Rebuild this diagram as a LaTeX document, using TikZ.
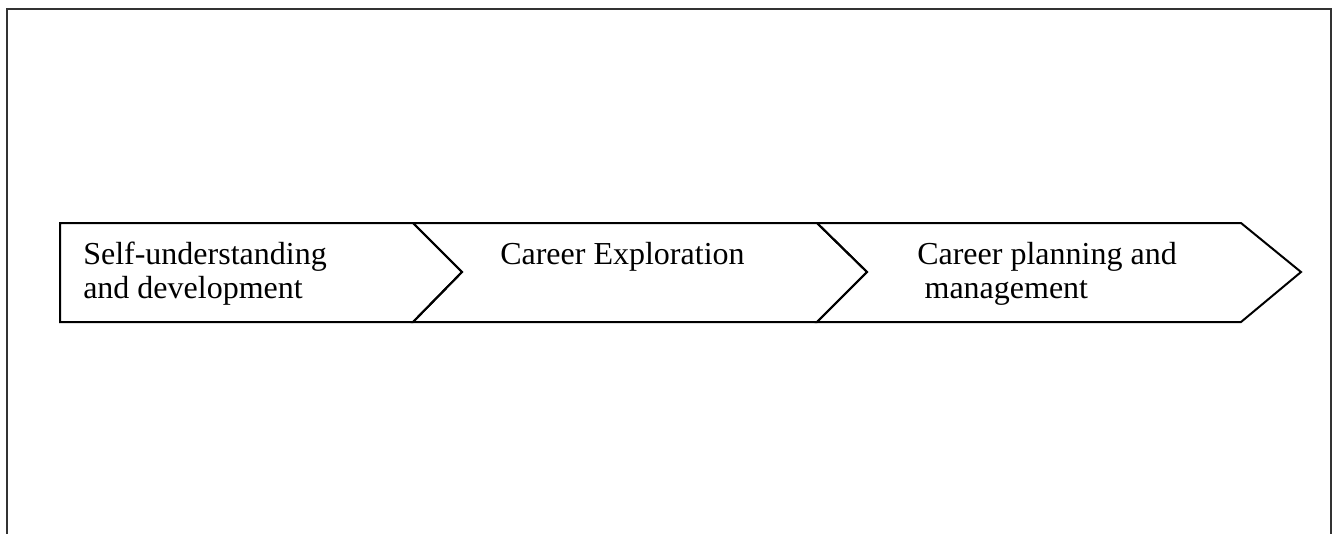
\documentclass[tikz,border=0pt]{standalone}
\usepackage{fontspec}
\setmainfont{Liberation Serif}
\usetikzlibrary{positioning}

\begin{document}
\begin{tikzpicture}[
  x=0.75pt, y=-0.75pt,
  every node/.style={font=\fontsize{24}{25.5}\selectfont},
  chev/.style={draw, line width=1.5pt, line join=miter},
  lbl/.style={anchor=base west, inner sep=0pt, align=left},
  frame/.style={draw=black!80, line width=1.1pt}
]
  \useasboundingbox (0,0) rectangle (1336,533);
  \draw[frame] (7,560) -- (7,9) -- (1331,9) -- (1331,560);

  % tips of the chevrons
  \coordinate (tip1) at (462,272);
  \coordinate (tip2) at (867,272);
  \coordinate (tip3) at (1301,272);

  \draw[chev] (60,223) -- (413,223) -- (tip1) -- (413,322) -- (60,322) -- cycle;
  \draw[chev] (413,223) -- (817,223) -- (tip2) -- (817,322) -- (413,322) -- (tip1) -- cycle;
  \draw[chev] (817,223) -- (1241,223) -- (tip3) -- (1241,322) -- (817,322) -- (tip2) -- cycle;

  \node[lbl] (self) at (83,298) {Self-understanding\\and development};
  \node[lbl] (explore) at (500,264) {Career Exploration};
  \node[lbl] (plan) at (917,298) {Career planning and\\\hspace*{5.5pt}management};
\end{tikzpicture}
\end{document}
